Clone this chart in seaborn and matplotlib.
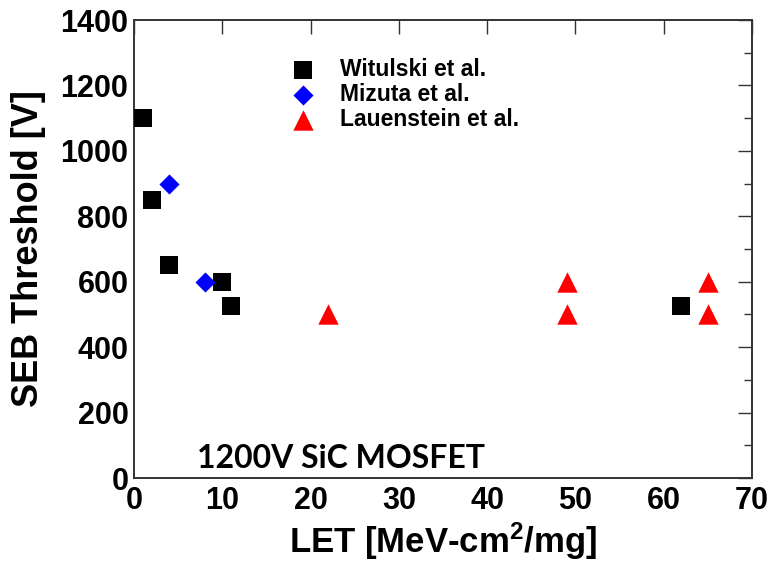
import numpy as np
import pandas as pd
import matplotlib
matplotlib.use("Agg")
import matplotlib.pyplot as plt
from matplotlib.ticker import MultipleLocator
import seaborn as sns

# ---- data ----
witulski_let = [1, 2, 4, 10, 11, 62]
witulski_v = [1100, 850, 650, 600, 525, 525]
mizuta_let = [4, 8]
mizuta_v = [900, 600]
lauenstein_let = [22, 49, 49, 65, 65]
lauenstein_v = [500, 600, 500, 600, 500]
series_names = ["Witulski et al.", "Mizuta et al.", "Lauenstein et al."]
x_ticks = [0, 10, 20, 30, 40, 50, 60, 70]
y_ticks = [0, 200, 400, 600, 800, 1000, 1200, 1400]
x_label = "LET [MeV-cm$^{2}$/mg]"
y_label = "SEB Threshold [V]"
note = "1200V SiC MOSFET"

sns.set_theme(style="white")
plt.rcParams["font.family"] = ["Liberation Sans", "DejaVu Sans"]
plt.rcParams["font.weight"] = "bold"
plt.rcParams["text.color"] = "black"
plt.rcParams["axes.labelcolor"] = "black"
plt.rcParams["xtick.color"] = "black"
plt.rcParams["ytick.color"] = "black"
plt.rcParams["mathtext.fontset"] = "custom"
plt.rcParams["mathtext.rm"] = "Liberation Sans:bold"
plt.rcParams["mathtext.it"] = "Liberation Sans:bold"
plt.rcParams["mathtext.bf"] = "Liberation Sans:bold"

df = pd.concat([
    pd.DataFrame({"LET": witulski_let, "V": witulski_v, "src": series_names[0]}),
    pd.DataFrame({"LET": mizuta_let, "V": mizuta_v, "src": series_names[1]}),
    pd.DataFrame({"LET": lauenstein_let, "V": lauenstein_v, "src": series_names[2]}),
], ignore_index=True)

fig = plt.figure(figsize=(7.8, 5.63), dpi=100)
ax = fig.add_axes([134 / 780, 1 - 478 / 563, 618 / 780, 458 / 563])

styles = {
    series_names[0]: dict(marker="s", color="black", s=150),
    series_names[1]: dict(marker="D", color="blue", s=105),
    series_names[2]: dict(marker="^", color="red", s=215),
}
for name in series_names:
    sub = df[df["src"] == name]
    st = styles[name]
    sns.scatterplot(data=sub, x="LET", y="V", ax=ax, marker=st["marker"],
                    color=st["color"], s=st["s"], linewidth=0, label=name,
                    clip_on=False, zorder=3)

ax.set_xlim(0, 70)
ax.set_ylim(0, 1400)
ax.set_xticks(x_ticks)
ax.set_yticks(y_ticks)
ax.yaxis.set_minor_locator(MultipleLocator(100))
ax.tick_params(which="both", direction="in", top=True, right=True,
               color="#333333", labelcolor="black", width=1.0)
ax.tick_params(which="major", length=10, labelsize=22)
ax.tick_params(which="minor", length=6)
ax.tick_params(axis="x", which="major", pad=6)
ax.tick_params(axis="y", which="major", pad=4)
for sp in ax.spines.values():
    sp.set_color("#333333")
    sp.set_linewidth(1.4)
    sp.set_visible(True)

ax.set_xlabel(x_label, fontsize=25, fontweight="bold", color="black")
ax.set_ylabel(y_label, fontsize=26, fontweight="bold", color="black")
ax.xaxis.set_label_coords(0.5, -0.092)
ax.yaxis.set_label_coords(-0.142, 0.5)

ax.text(7.1, 30, note, fontsize=23, fontweight="bold", color="black",
        family=["Lato", "DejaVu Sans"], va="baseline", ha="left", zorder=4)

leg = ax.legend(loc="upper left", bbox_to_anchor=(0.255, 0.918), frameon=False,
                borderpad=0, borderaxespad=0, handlelength=1.0,
                handletextpad=1.1, labelspacing=0.09,
                prop={"family": "Liberation Sans", "weight": "bold", "size": 16.5})
for t in leg.get_texts():
    t.set_color("black")

fig.savefig("out.png", dpi=100)
